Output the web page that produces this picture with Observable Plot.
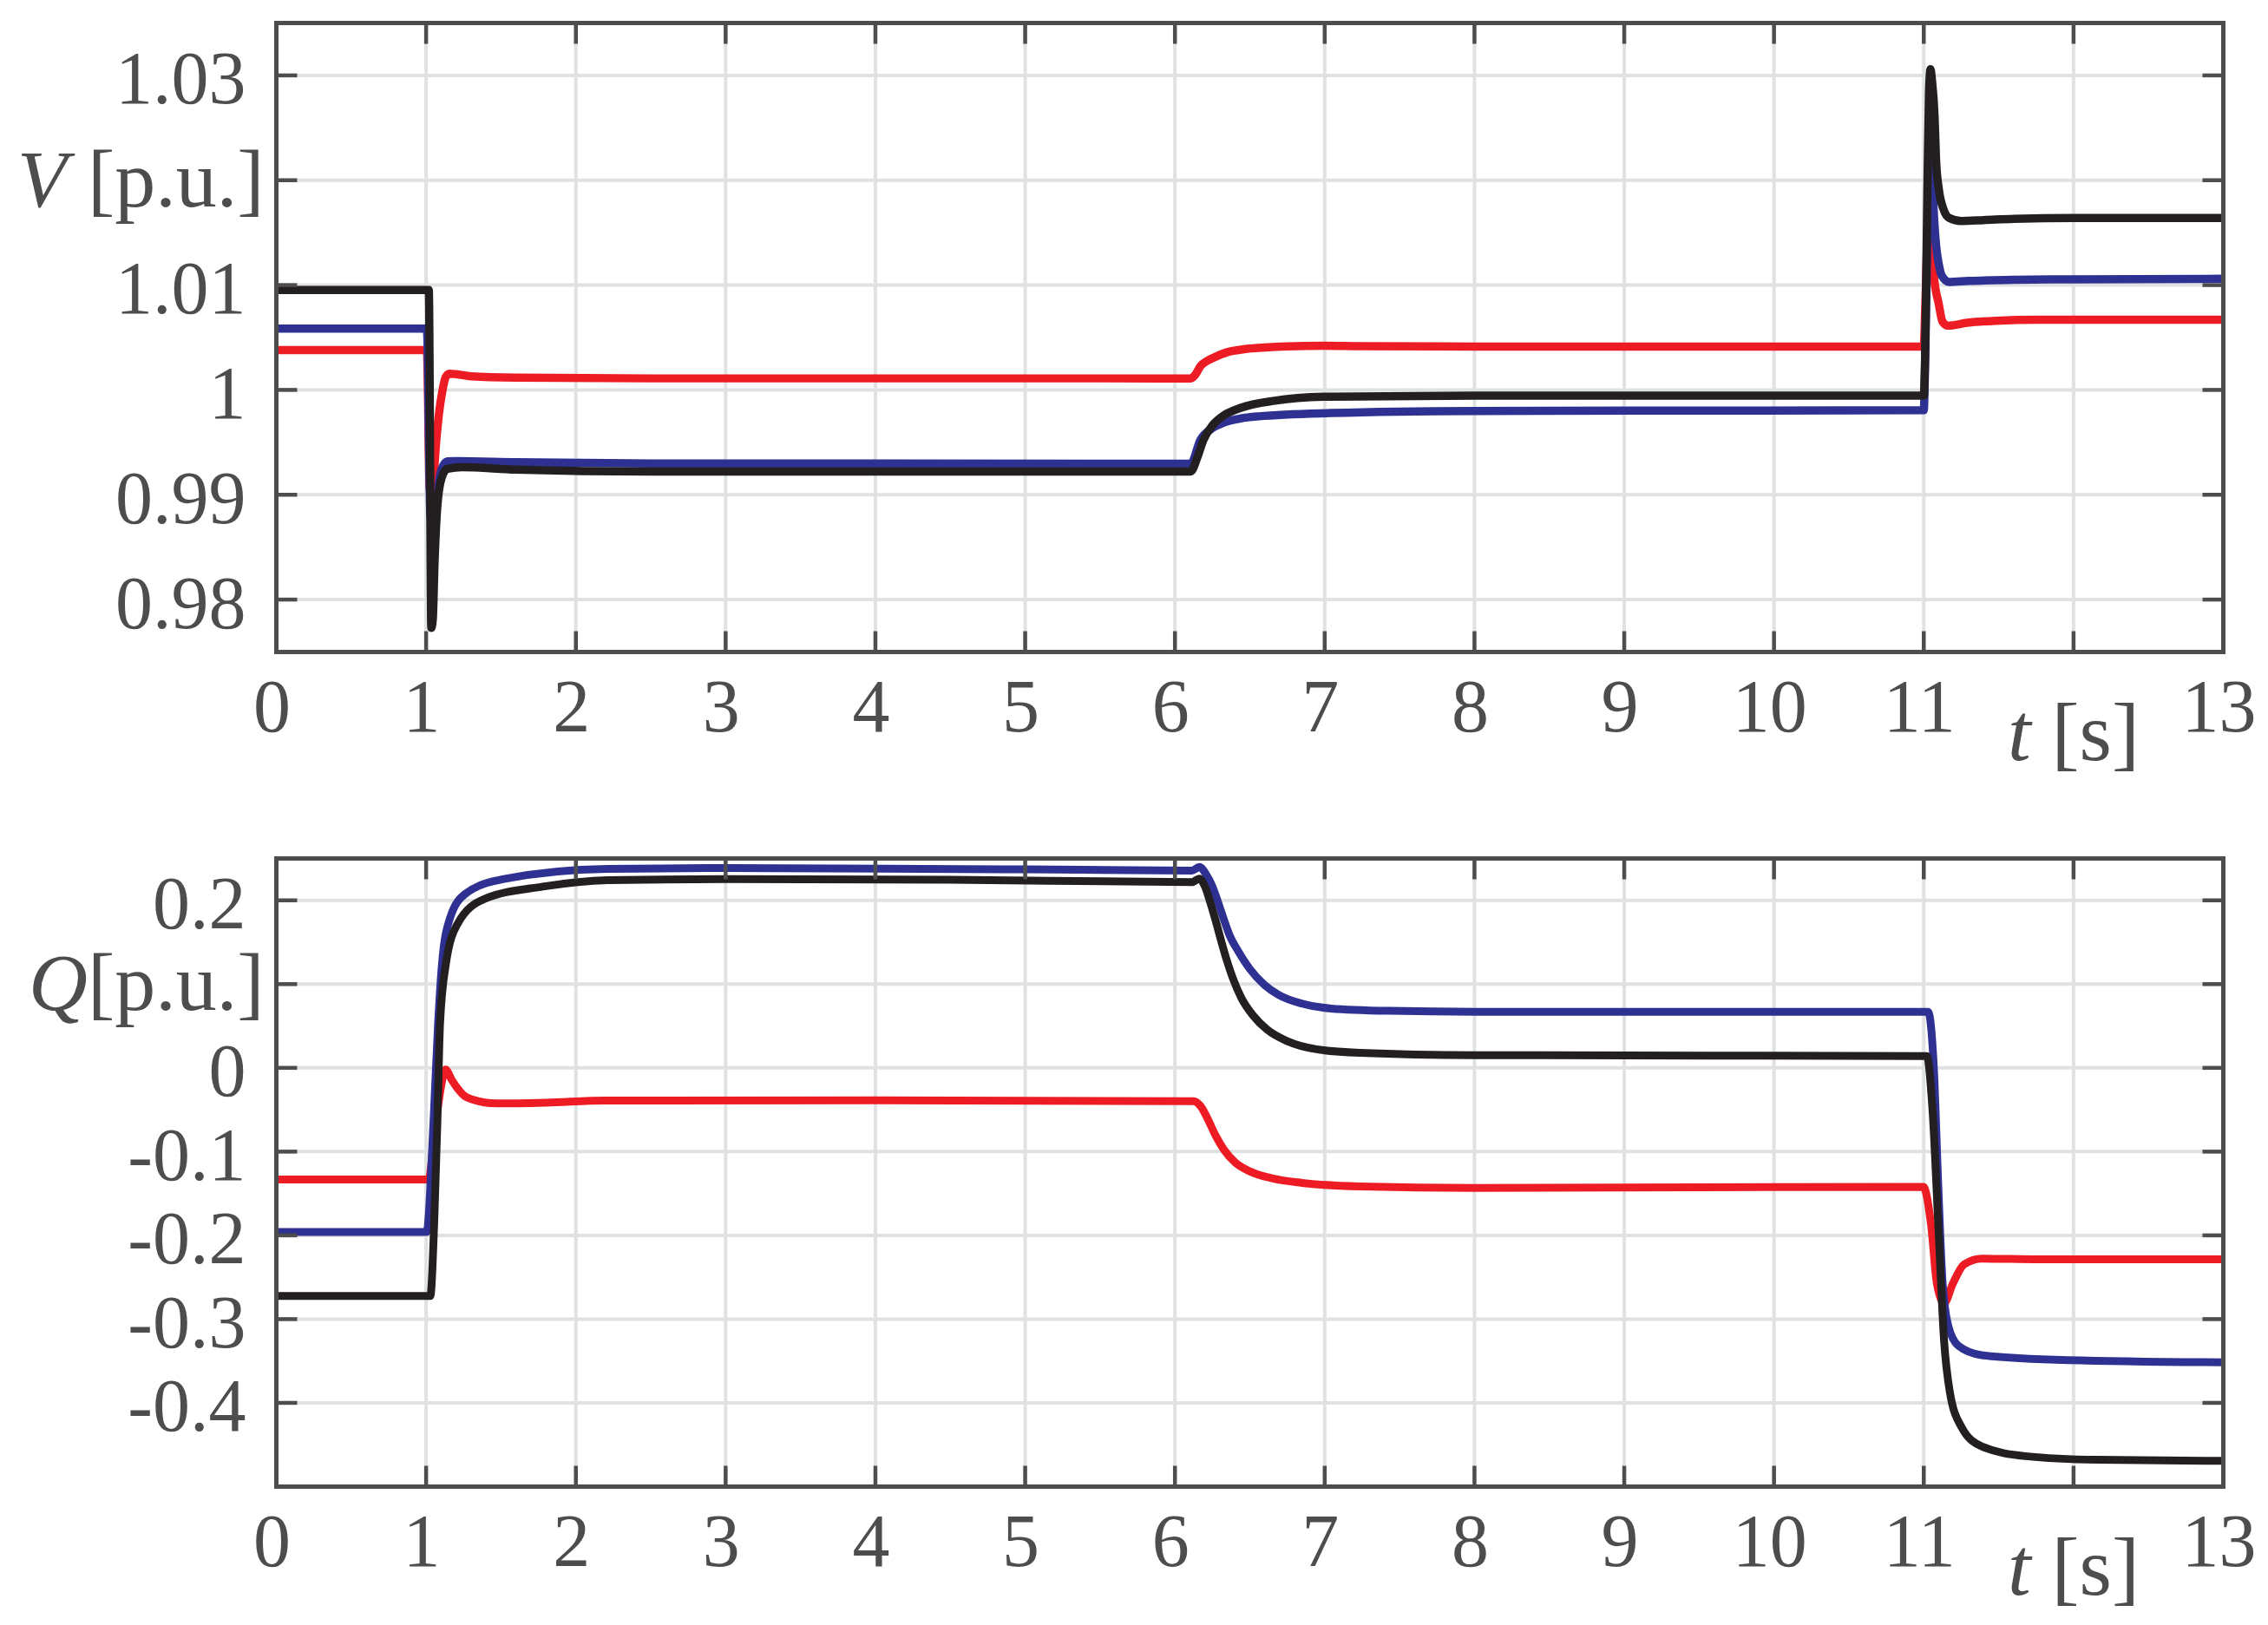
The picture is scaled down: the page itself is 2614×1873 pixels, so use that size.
<!DOCTYPE html>
<html><head><meta charset="utf-8">
<script src="https://cdn.jsdelivr.net/npm/d3@7"></script>
<script src="https://cdn.jsdelivr.net/npm/@observablehq/plot@0.6"></script>
<style>
html,body{margin:0;padding:0;background:#fff;}
#chart svg{display:block;}
</style>
</head><body><div id="chart"></div>
<script>
// ---- ticks ----
const tTicks = [0,1,2,3,4,5,6,7,8,9,10,11,12,13];
const tTickLabels = [0,1,2,3,4,5,6,7,8,9,10,11,13];
const vTicks = [0.98,0.99,1,1.01,1.02,1.03];
const vTickLabels = [0.98,0.99,1,1.01,1.03];
const qTicks = [-0.4,-0.3,-0.2,-0.1,0,0.1,0.2];
const qTickLabels = [-0.4,-0.3,-0.2,-0.1,0,0.2];
const tDomain = [0, 13];
const vDomain = [0.975, 1.035];
const qDomain = [-0.5, 0.25];

// ---- V [p.u.] series ----
const tVRed = [0,1.005,1.025,1.045,1.07,1.09,1.11,1.13,1.155,1.2,1.3,1.6,2.5,6.105,6.135,6.17,6.22,6.27,6.35,6.46,6.6,6.75,7.0,7.23,8.0,11.0,11.01,11.03,11.045,11.067,11.1,11.124,11.16,11.29,11.48,11.77,13];
const vRed = [1.0038,1.0038,0.9905,0.9912,0.9955,0.9982,1.0000,1.0012,1.00155,1.0015,1.0013,1.00118,1.0011,1.0011,1.00143,1.00226,1.0028,1.00315,1.0036,1.00388,1.00405,1.00416,1.00422,1.00418,1.00414,1.00414,1.008,1.0165,1.0172,1.01095,1.0082,1.00654,1.00613,1.0064,1.0066,1.0067,1.0067];

const tVBlue = [0,1.005,1.03,1.064,1.09,1.115,1.145,1.2,1.6,2.5,6.105,6.17,6.25,6.33,6.44,6.56,7.04,8.0,11.0,11.012,11.03,11.045,11.055,11.064,11.083,11.1,11.12,11.17,11.3,11.6,12.0,13];
const vBlue = [1.00585,1.00585,0.9878,0.98833,0.99164,0.9928,0.99318,0.99321,0.9931,0.99298,0.99296,0.99522,0.99635,0.9969,0.99728,0.99748,0.99779,0.99799,0.99807,1.005,1.019,1.0235,1.0215,1.0178,1.0137,1.0120,1.0109,1.0103,1.0104,1.0105,1.01055,1.0106];

const tVBlack = [0,1.018,1.035,1.045,1.056,1.075,1.104,1.142,1.24,1.6,2.5,6.105,6.15,6.19,6.25,6.33,6.44,6.655,7.04,8.0,11.0,11.01,11.025,11.035,11.045,11.055,11.072,11.082,11.1,11.13,11.17,11.25,11.4,11.6,12.0,13];
const vBlack = [1.00954,1.00954,0.9773,0.9782,0.98336,0.98891,0.99164,0.99247,0.99263,0.9924,0.99222,0.99222,0.99357,0.99522,0.9966,0.9976,0.9983,0.99895,0.99936,0.99945,0.99945,1.004,1.02,1.0285,1.0306,1.0295,1.0261,1.022,1.0192,1.0173,1.0164,1.01612,1.0162,1.01632,1.0164,1.0164];

// ---- Q [p.u.] series ----
const tQRed = [0,1.016,1.045,1.07,1.1,1.13,1.17,1.21,1.26,1.313,1.468,1.8,2.2,4.0,6.124,6.172,6.22,6.27,6.327,6.404,6.5,6.655,6.848,7.234,8.0,11.0,11.01,11.049,11.088,11.136,11.193,11.27,11.387,11.77,13];
const qRed = [-0.1333,-0.1333,-0.1,-0.06,-0.022,-0.002,-0.014,-0.0245,-0.034,-0.038,-0.0425,-0.0415,-0.039,-0.0388,-0.0397,-0.0459,-0.0614,-0.0804,-0.0977,-0.1133,-0.1236,-0.1322,-0.1374,-0.1416,-0.1433,-0.142,-0.146,-0.188,-0.258,-0.281,-0.258,-0.2346,-0.2277,-0.2286,-0.2286];

const tQBlue = [0,1.003,1.049,1.08,1.106,1.158,1.261,1.52,2.213,3.0,5.0,6.114,6.163,6.21,6.25,6.288,6.327,6.366,6.424,6.5,6.597,6.694,6.848,7.041,7.427,8.007,11.029,11.068,11.097,11.126,11.165,11.232,11.387,11.966,13];
const qBlue = [-0.196,-0.196,-0.066,0.053,0.124,0.178,0.2076,0.2255,0.2375,0.2385,0.237,0.2356,0.2398,0.2305,0.2166,0.1976,0.1769,0.1579,0.1389,0.1181,0.0992,0.087,0.0767,0.0709,0.0681,0.067,0.067,-0.0033,-0.142,-0.258,-0.309,-0.332,-0.343,-0.349,-0.3516];

const tQBlack = [0,1.028,1.054,1.075,1.093,1.132,1.21,1.39,1.78,2.21,3.0,4.5,6.114,6.163,6.2,6.23,6.27,6.307,6.346,6.385,6.443,6.52,6.616,6.751,6.945,7.234,8.007,11.02,11.058,11.097,11.136,11.174,11.252,11.387,11.677,12.16,13];
const qBlack = [-0.2724,-0.2724,-0.185,-0.066,0.053,0.124,0.172,0.2017,0.2165,0.2242,0.2255,0.2245,0.2218,0.2259,0.2166,0.201,0.1769,0.1527,0.1285,0.1078,0.0836,0.0629,0.0456,0.0318,0.0222,0.018,0.0152,0.0142,-0.0496,-0.188,-0.327,-0.387,-0.429,-0.452,-0.4636,-0.468,-0.4693];

// ---- styles ----
const RED = "#ed1c24", BLUE = "#2e3192", BLACK = "#231f20";
const FRAME = "#4d4d4f", GRID = "#e0e1e3", TEXT = "#4d4d4f";
const FONT = "'Liberation Serif', 'Times New Roman', Times, serif";

const zip = (ts, ys) => ts.map((t, i) => ({t, y: ys[i]}));
const tickShape = {draw(ctx, l) { ctx.moveTo(0, 0); ctx.lineTo(0, -l); }};

function panel({height, marginTop, marginBottom, yDomain, yTicks, yTickLabels, yTitle, yTitleAt, lineWidth, series}) {
  const tickOpts = {length: 24, anchor: "start", shape: tickShape, stroke: FRAME, strokeWidth: 4.5, strokeLinecap: "butt", fill: "none"};
  return Plot.plot({
    width: 2614, height, marginTop, marginBottom, marginLeft: 318, marginRight: 52,
    style: {fontFamily: FONT, fontSize: "86px", background: "#fff", color: TEXT, overflow: "visible"},
    x: {domain: tDomain, label: null},
    y: {domain: yDomain, label: null},
    marks: [
      Plot.gridX(tTicks, {stroke: GRID, strokeOpacity: 1, strokeWidth: 4}),
      Plot.gridY(yTicks, {stroke: GRID, strokeOpacity: 1, strokeWidth: 4}),
      ...series.map(s => Plot.line(zip(s.t, s.y), {x: "t", y: "y", stroke: s.color, strokeWidth: lineWidth, curve: "monotone-x", strokeLinejoin: "round", strokeLinecap: "butt"})),
      Plot.vector(yTicks, {...tickOpts, frameAnchor: "left", y: d => d, rotate: 90}),
      Plot.vector(yTicks, {...tickOpts, frameAnchor: "right", y: d => d, rotate: -90}),
      Plot.vector(tTicks, {...tickOpts, frameAnchor: "bottom", x: d => d, rotate: 0}),
      Plot.vector(tTicks, {...tickOpts, frameAnchor: "top", x: d => d, rotate: 180}),
      Plot.frame({stroke: FRAME, strokeWidth: 5}),
      Plot.axisY(yTickLabels, {anchor: "left", tickSize: 0, tickPadding: 35, dy: 5, tickFormat: d => String(d), fontSize: 86, fill: TEXT, label: null}),
      Plot.axisX(tTickLabels, {anchor: "bottom", tickSize: 0, tickPadding: 30, dx: -5, tickFormat: d => String(d), fontSize: 86, fill: TEXT, label: null}),
      Plot.text([yTitleAt], {frameAnchor: "left", y: d => d, text: () => yTitle, dx: -14, textAnchor: "end", lineAnchor: "middle", fontSize: 94, fill: TEXT}),
      Plot.text([12], {frameAnchor: "bottom", x: d => d, text: () => "t [s]", dy: 124, textAnchor: "middle", lineAnchor: "bottom", fontSize: 96, fill: TEXT})
    ]
  });
}

function italicize(svg, full, italicPart) {
  const ns = "http://www.w3.org/2000/svg";
  for (const el of svg.querySelectorAll("text")) {
    if (el.textContent === full) {
      el.textContent = "";
      const a = document.createElementNS(ns, "tspan");
      a.setAttribute("font-style", "italic");
      a.textContent = italicPart;
      const b = document.createElementNS(ns, "tspan");
      b.textContent = full.slice(italicPart.length);
      el.append(a, b);
    }
  }
}

const chartV = panel({
  height: 937, marginTop: 26, marginBottom: 186,
  yDomain: vDomain, yTicks: vTicks, yTickLabels: vTickLabels,
  yTitle: "V [p.u.]", yTitleAt: 1.02, lineWidth: 9.5,
  series: [{t: tVRed, y: vRed, color: RED}, {t: tVBlue, y: vBlue, color: BLUE}, {t: tVBlack, y: vBlack, color: BLACK}]
});
const chartQ = panel({
  height: 936, marginTop: 52, marginBottom: 160,
  yDomain: qDomain, yTicks: qTicks, yTickLabels: qTickLabels,
  yTitle: "Q[p.u.]", yTitleAt: 0.1, lineWidth: 9,
  series: [{t: tQRed, y: qRed, color: RED}, {t: tQBlue, y: qBlue, color: BLUE}, {t: tQBlack, y: qBlack, color: BLACK}]
});
italicize(chartV, "V [p.u.]", "V");
italicize(chartV, "t [s]", "t");
italicize(chartQ, "Q[p.u.]", "Q");
italicize(chartQ, "t [s]", "t");
document.getElementById("chart").append(chartV, chartQ);
</script>
</body></html>
